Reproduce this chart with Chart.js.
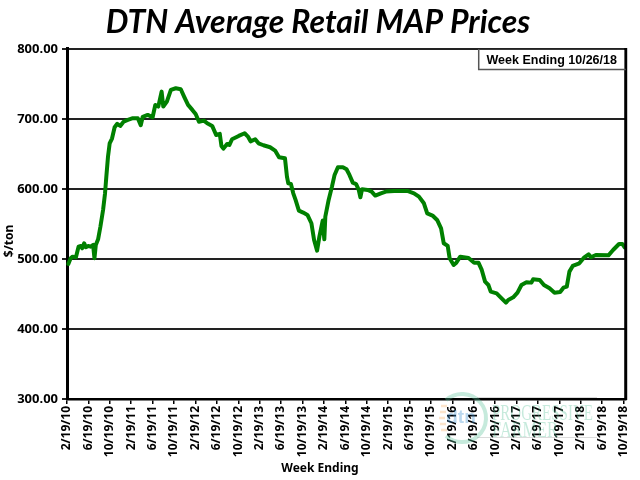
<!DOCTYPE html>
<html><head><meta charset="utf-8">
<style>html,body{margin:0;padding:0;background:#fff}canvas{display:block}</style>
<script src="https://cdn.jsdelivr.net/npm/chart.js@4"></script>
</head><body><canvas id="c" width="640" height="480"></canvas>
<script>
const chartTitle = "DTN Average Retail MAP Prices";
const boxLabel = "Week Ending 10/26/18";
const yAxisTitle = "$/ton";
const xAxisTitle = "Week Ending";
const tickLabels = ["2/19/10","6/19/10","10/19/10","2/19/11","6/19/11","10/19/11","2/19/12","6/19/12","10/19/12","2/19/13","6/19/13","10/19/13","2/19/14","6/19/14","10/19/14","2/19/15","6/19/15","10/19/15","2/19/16","6/19/16","10/19/16","2/19/17","6/19/17","10/19/17","2/19/18","6/19/18","10/19/18"];
const tickMonths = [0,4,8,12,16,20,24,28,32,36,40,44,48,52,56,60,64,68,72,76,80,84,88,92,96,100,104];
const months = [0.25,0.68,1.05,1.67,2.16,2.6,2.84,3.21,3.52,3.96,4.39,4.88,5.13,5.38,5.81,6.24,6.74,7.11,7.35,7.66,7.97,8.41,8.9,9.39,9.95,10.57,11.37,12.3,13.23,13.78,14.15,15.08,16.0,16.5,17.06,17.68,17.99,18.66,19.41,20.33,21.26,21.88,22.62,23.42,24.04,24.66,25.59,26.2,27.13,27.87,28.55,28.86,29.23,29.91,30.35,30.84,32.08,33.19,33.81,34.3,35.17,35.79,36.71,37.95,38.88,39.62,40.73,41.1,41.35,41.84,42.28,42.71,43.33,44.13,44.93,45.67,46.17,46.73,47.16,47.78,48.08,48.27,48.89,49.51,50.0,50.62,51.55,52.23,52.78,53.4,54.02,54.51,54.82,55.13,56.18,56.92,57.6,58.65,59.58,61.13,63.6,64.84,65.76,66.69,67.31,68.3,69.16,69.9,70.4,71.14,71.5,72.25,72.75,73.48,75.03,76.08,76.88,77.5,78.12,78.74,79.18,80.28,81.21,82.02,82.45,83.38,84.18,84.92,85.85,86.78,87.09,88.33,89.12,90.17,91.1,92.15,92.77,93.39,93.88,94.5,95.73,96.66,97.46,97.9,98.82,101.17,102.04,103.15,103.77,104.2];
const prices = [492.9,501,503.3,502.4,517.6,518.6,515.2,522.4,516.7,518.6,517.6,520,501,520,528,546,570,594,617.6,646,665,672,688,693,690,696,698.6,701,701,691,703,705.7,702.4,720,717.6,739,717.6,724.8,741.4,743.8,742.4,731.9,720,712.9,707,696,697.6,693.8,690,677.1,678.6,661.4,657.6,664.3,662.9,671,675.7,679.5,674.8,668,671,665.2,662.4,659.5,654.8,645.2,643.8,617.6,608,607.1,593.8,584.3,569,566.2,562.9,551,527.1,511.9,531.9,554.8,528,560.5,584.3,603.3,620,631,631,628.1,620,609,607,598.6,588,599.5,598.6,596.2,590.5,593.8,596.2,597.1,597.1,593.8,589,579.5,565.2,562,555.7,543.8,522.4,518.6,500.9,491.4,494.7,503.3,501.4,494.7,494.7,484.3,467.6,462.8,453.3,450.9,443.8,437.6,441.4,445.2,451.9,462.8,466.7,466.2,470.9,470,462.8,458.1,451.9,452.8,459,460.5,481.9,490,493.8,502.4,506.7,502.4,505.7,505.2,512.8,521.4,521.4,516.7];

const frame = {
  id:'frame',
  afterDatasetsDraw(chart){
    const {ctx,chartArea:a} = chart;
    ctx.save();
    ctx.strokeStyle='#000'; ctx.lineWidth=3;
    ctx.beginPath(); ctx.moveTo(a.right,a.top-1); ctx.lineTo(a.right,a.bottom+1); ctx.stroke();
    const w=147,h=20.5, x=a.right-w, y=a.top;
    ctx.fillStyle='#fff'; ctx.fillRect(x,y+1,w-1.5,h-1);
    ctx.strokeStyle='#555'; ctx.lineWidth=1.5;
    ctx.beginPath(); ctx.moveTo(x,y); ctx.lineTo(x,y+h); ctx.lineTo(a.right,y+h); ctx.stroke();
    ctx.fillStyle='#000'; ctx.font='bold 12.5px "Liberation Sans"';
    ctx.textAlign='center'; ctx.textBaseline='middle';
    ctx.fillText(boxLabel,x+w/2-0.5,y+h/2+1);
    ctx.restore();
  },
  afterDraw(chart){
    const {ctx} = chart;
    ctx.save();
    ctx.fillStyle='#000'; ctx.font='bold 12px "Noto Sans"';
    ctx.textAlign='center'; ctx.textBaseline='middle';
    ctx.fillText(xAxisTitle,320,469);
    ctx.translate(10,241); ctx.rotate(-Math.PI/2);
    ctx.fillText(yAxisTitle,0,0);
    ctx.restore();
    // faint logo watermark
    ctx.save();
    ctx.globalAlpha=0.35;
    ctx.strokeStyle='#5cc29a'; ctx.lineWidth=4;
    ctx.beginPath(); ctx.arc(462,418,24,-2.3,2.3); ctx.stroke();
    ctx.strokeStyle='#f5b26b'; ctx.lineWidth=2.5;
    [406,412,418,424,430].forEach((yy,i)=>{ctx.beginPath();ctx.moveTo(439+Math.abs(i-2),yy);ctx.lineTo(445+Math.abs(i-2),yy);ctx.stroke();});
    ctx.strokeStyle='#999'; ctx.lineWidth=1;
    ctx.beginPath(); ctx.moveTo(477,397.5); ctx.lineTo(597,397.5); ctx.moveTo(477,437.5); ctx.lineTo(597,437.5); ctx.stroke();
    ctx.fillStyle='#3a8fd0'; ctx.font='bold 19px "Liberation Sans"';
    ctx.textAlign='center'; ctx.textBaseline='middle';
    ctx.fillText('dtn',461,418);
    ctx.fillStyle='#5cc29a'; ctx.font='24px "Liberation Serif"';
    ctx.textAlign='left';
    ctx.fillText('PROGRESSIVE',492,414,101);
    ctx.fillText('FARMER',492,431,66);
    ctx.restore();
  }
};

new Chart(document.getElementById('c'),{
  type:'line',
  data:{datasets:[{
    data:months.map((m,i)=>({x:m,y:prices[i]})),
    borderColor:'#008000',borderWidth:4,pointRadius:0,tension:0,
    borderJoinStyle:'round',borderCapStyle:'round',clip:false
  }]},
  plugins:[frame],
  options:{
    responsive:false,animation:false,devicePixelRatio:1,
    layout:{padding:{left:3,right:7,top:0,bottom:0}},
    plugins:{
      legend:{display:false},tooltip:{enabled:false},
      title:{display:true,text:chartTitle,color:'#000',
        font:{family:'Lato',size:32,weight:'bold',style:'italic'},
        padding:{top:3,bottom:7.5}}
    },
    scales:{
      x:{type:'linear',min:0,max:104.4,
        afterBuildTicks(ax){ax.ticks=tickMonths.map(v=>({value:v}));},
        afterFit(ax){ax.height=81;},
        grid:{display:true,drawOnChartArea:false,drawTicks:true,tickLength:5,color:'#000',lineWidth:1.5},
        border:{color:'#000',width:2.5},
        ticks:{autoSkip:false,minRotation:90,maxRotation:90,color:'#000',padding:2,
          font:{family:'Noto Sans',size:12,weight:'bold'},
          callback(v){return tickLabels[tickMonths.indexOf(v)];}}
      },
      y:{min:300,max:800,
        afterBuildTicks(ax){ax.ticks=[300,400,500,600,700,800].map(v=>({value:v}));},
        afterFit(ax){ax.width=64;},
        grid:{color:'#222',lineWidth:2,tickLength:5},
        border:{color:'#000',width:3},
        ticks:{color:'#000',padding:4,font:{family:'Noto Sans',size:13,weight:'bold'},
          callback(v){return v.toFixed(2);}}
      }
    }
  }
});
</script></body></html>
